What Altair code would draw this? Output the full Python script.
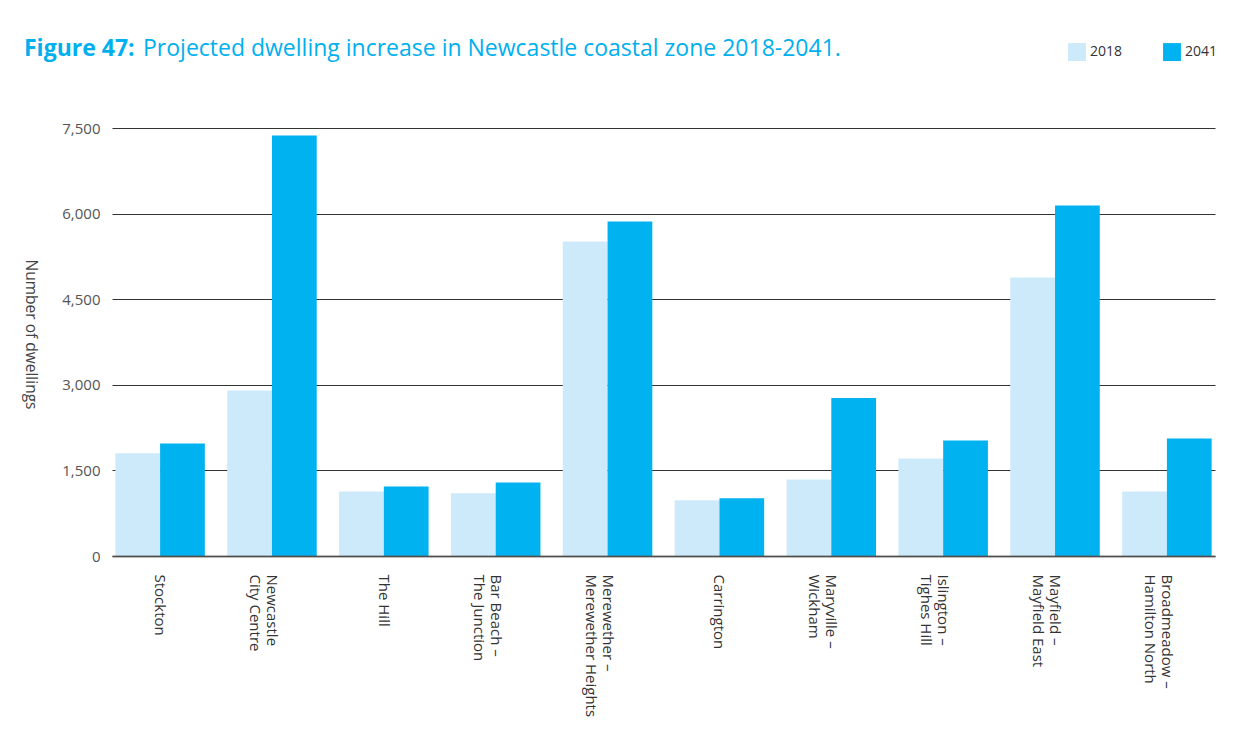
import altair as alt
import pandas as pd

categories = [
    "Stockton",
    "Newcastle\nCity Centre",
    "The Hill",
    "Bar Beach –\nThe Junction",
    "Merewether –\nMerewether Heights",
    "Carrington",
    "Maryville –\nWickham",
    "Islington –\nTighes Hill",
    "Mayfield –\nMayfield East",
    "Broadmeadow –\nHamilton North",
]
values_2018 = [1800, 2900, 1130, 1100, 5510, 975, 1340, 1710, 4880, 1130]
values_2041 = [1970, 7370, 1220, 1290, 5860, 1010, 2770, 2025, 6140, 2060]
years = ["2018", "2041"]
colors = ["#cdeafa", "#00b2ef"]
y_ticks = [0, 1500, 3000, 4500, 6000, 7500]

rows = []
for c, a, b in zip(categories, values_2018, values_2041):
    rows.append({"area": c, "year": "2018", "value": a})
    rows.append({"area": c, "year": "2041", "value": b})
df = pd.DataFrame(rows)

FONT = "Open Sans"

bars = alt.Chart(df).mark_bar().encode(
    x=alt.X(
        "area:N",
        sort=categories,
        title=None,
        scale=alt.Scale(paddingInner=0.2, paddingOuter=0.03),
        axis=alt.Axis(
            labelAngle=90,
            labelAlign="left",
            labelBaseline="middle",
            labelExpr="split(datum.label, '\\n')",
            labelFont=FONT,
            labelFontSize=15,
            labelColor="#333333",
            labelPadding=18,
            labelLineHeight=17,
            ticks=False,
            domainColor="#555555",
            domainWidth=2,
            domainOpacity=0.8,
            zindex=1,
            labelLimit=300,
        ),
    ),
    xOffset=alt.XOffset("year:N", sort=years),
    y=alt.Y(
        "value:Q",
        scale=alt.Scale(domain=[0, 7500], nice=False),
        axis=alt.Axis(
            values=y_ticks,
            format=",.0f",
            title="Number of dwellings",
            titleAngle=90,
            titleX=-82,
            titleY=206,
            titleAlign="center",
            titleBaseline="middle",
            titleFont=FONT,
            titleFontSize=15.5,
            titleFontWeight="normal",
            titleColor="#444444",
            labelFont=FONT,
            labelFontSize=15,
            labelColor="#555555",
            labelPadding=12,
            ticks=False,
            domain=False,
            grid=True,
            gridColor="#333333",
            gridWidth=1,
        ),
    ),
    color=alt.Color(
        "year:N",
        scale=alt.Scale(domain=years, range=colors),
        legend=alt.Legend(
            title=None,
            orient="none",
            legendX=956,
            legendY=-85,
            direction="horizontal",
            symbolType="square",
            symbolSize=320,
            symbolStrokeWidth=0,
            labelFont=FONT,
            labelFontSize=14,
            labelColor="#333333",
            columnPadding=40,
            labelOffset=4,
        ),
    ),
)

title_df = pd.DataFrame({"t": [0]})
title_bold = alt.Chart(title_df).mark_text(
    text="Figure 47:", font=FONT, fontSize=23, fontWeight="bold",
    color="#00b0ee", align="left", baseline="middle",
).encode(x=alt.value(-88), y=alt.value(-79))
title_rest = alt.Chart(title_df).mark_text(
    text="Projected dwelling increase in Newcastle coastal zone 2018-2041.",
    font=FONT, fontSize=23, fontWeight="normal",
    color="#00b0ee", align="left", baseline="middle",
).encode(x=alt.value(31), y=alt.value(-79))

chart = alt.layer(bars, title_bold, title_rest).properties(
    width=1103,
    height=428,
    autosize=alt.AutoSizeParams(type="none"),
    padding={"left": 104, "top": 120, "right": 22, "bottom": 180},
).configure_view(stroke=None)

chart.save("out.html", embed_options={"renderer": "svg", "actions": False})
